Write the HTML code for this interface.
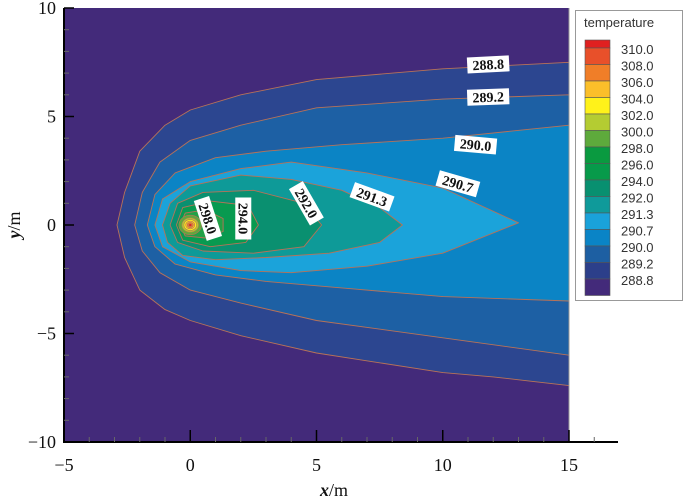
<!DOCTYPE html>
<html><head><meta charset="utf-8"><style>
body{margin:0;background:#fff;}
svg{display:block;}
.tl{font-family:"Liberation Serif",serif;font-size:18px;fill:#111;}
.cl{font-family:"Liberation Serif",serif;font-size:14px;font-weight:bold;fill:#111;}
.lg{font-family:"Liberation Sans",sans-serif;font-size:13px;fill:#333;}
</style></head><body>
<svg id="chart" width="700" height="501" viewBox="0 0 700 501">
<g id="plot"></g>
<g id="axes"></g>
<g id="labels"></g>
<g id="legend"></g>
</svg>
<script>
const xTicks=[-5,0,5,10,15];
const yTicks=[10,5,0,-5,-10];
const xTickLabels=["\u22125","0","5","10","15"];
const yTickLabels=["10","5","0","\u22125","\u221210"];
const legendLevels=["310.0","308.0","306.0","304.0","302.0","300.0","298.0","296.0","294.0","292.0","291.3","290.7","290.0","289.2","288.8"];
const legendColors=["#e8502a","#f07e28","#fbbf2a","#fff21a","#b4cc32","#5eaa3c","#0a9a40","#079a4a","#089070","#0f9a9a","#1aa2da","#0a84c6","#1d5fa2","#2c3f8a","#432a7a"];
const regionLevels=["289.2","290.0","290.7","291.3","292.0","294.0","296.0","298.0"];
const regionColors=["#2c4690","#1d60a4","#0b84c5","#1ba3da","#0e9a98","#0a9070","#089a50","#22a046"];
const regionPolys=[
[[-2.9,0],[-2.6,1.5],[-2,3.4],[-1,4.6],[0,5.3],[2,6.0],[5,6.7],[10,7.2],[15,7.5],[15,-7.4],[12,-7.0],[10,-6.8],[5,-5.9],[2,-5.1],[0,-4.4],[-1,-3.9],[-2,-3],[-2.6,-1.5]],
[[-2.2,0],[-1.9,1.5],[-1.2,2.9],[0,3.9],[2,4.6],[5,5.4],[10,5.8],[15,6.0],[15,-6.0],[10,-5.2],[5,-4.4],[2,-3.6],[0,-3.0],[-1.2,-2.2],[-1.9,-1.2]],
[[-1.7,0],[-1.4,1.4],[-0.6,2.4],[1,3.1],[3,3.4],[6,3.7],[10,4.0],[15,4.6],[15,-3.5],[10,-3.3],[6,-2.9],[3,-2.6],[1,-2.3],[-0.6,-1.8],[-1.4,-1.0]],
[[-1.4,0],[-1.1,1.2],[0,2.0],[2,2.6],[4,2.9],[7,2.4],[10,1.7],[13,0.1],[10,-1.3],[7,-1.9],[4,-2.2],[2,-2.1],[0,-1.7],[-1.1,-1.0]],
[[-1.1,0],[-0.8,1.0],[0,1.8],[2,2.3],[4,2.1],[6,1.6],[7.5,0.8],[8.4,0],[7.5,-0.8],[5.5,-1.3],[3,-1.5],[1,-1.6],[-0.3,-1.4],[-0.9,-0.8]],
[[-0.8,0],[-0.5,1.0],[0.5,1.5],[2.5,1.6],[4.5,1.0],[5.2,0],[4.5,-1.0],[2.5,-1.3],[0.5,-1.2],[-0.5,-0.8]],
[[-0.55,0],[-0.3,0.8],[0.8,1.1],[2.3,0.9],[2.7,0],[2.2,-0.8],[0.8,-1.0],[-0.3,-0.7]],
[[-0.4,0],[-0.2,0.55],[0.6,0.7],[1.3,0.3],[1.3,-0.3],[0.6,-0.6],[-0.2,-0.5]]];
const coreRadii=[0.45,0.33,0.25,0.18,0.12,0.06];
const coreColors=["#5eaa3c","#b4cc32","#fff21a","#fbbf2a","#f07e28","#e02020"];
const labelText=["288.8","289.2","290.0","290.7","291.3","292.0","294.0","298.0"];
const labelX=[11.8,11.8,11.3,10.6,7.2,4.6,2.1,0.7];
const labelY=[7.4,5.9,3.7,1.9,1.3,1.0,0.3,0.3];
const labelRot=[-3,-2,5,16,20,60,90,72];

const X0=64,X1=569,Y0=8,Y1=442;
const sx=v=>X0+(v+5)/20*(X1-X0);
const sy=v=>Y0+(10-v)/20*(Y1-Y0);
const NS="http://www.w3.org/2000/svg";
function mk(t,a,p){const e=document.createElementNS(NS,t);for(const k in a)e.setAttribute(k,a[k]);p.appendChild(e);return e;}
const plot=document.getElementById('plot'),axes=document.getElementById('axes'),labels=document.getElementById('labels'),legend=document.getElementById('legend');
let bg=mk('rect',{x:X0,y:Y0,width:X1-X0,height:Y1-Y0,fill:"#432a7a"},plot);


regionPolys.forEach((poly,i)=>{
  const p=mk('polygon',{points:poly.map(q=>sx(q[0]).toFixed(1)+','+sy(q[1]).toFixed(1)).join(' '),fill:regionColors[i],stroke:"#b87258","stroke-width":0.9,"stroke-linejoin":"round"},plot);
  
  
});
coreRadii.forEach((r,i)=>{
  const e=mk('ellipse',{cx:sx(0),cy:sy(0),rx:sx(r)-sx(0),ry:sy(0)-sy(r),fill:coreColors[i],stroke:"#b87258","stroke-width":0.6},plot);
  
  
});
mk('line',{x1:X0,y1:Y0,x2:X0,y2:Y1+1,stroke:"#000","stroke-width":2},axes);
mk('line',{x1:X0-1,y1:Y1,x2:618,y2:Y1,stroke:"#000","stroke-width":2},axes);
mk('line',{x1:X1,y1:Y0,x2:X1,y2:Y1,stroke:"#999","stroke-width":1},axes);
for(let v=-5;v<=16;v++){const big=v%5===0;mk('line',{x1:sx(v),y1:Y1,x2:sx(v),y2:Y1-(big?12:5),stroke:big?"#000":"#666","stroke-width":big?1.5:1},axes);}
for(let v=-10;v<=10;v++){const big=v%5===0;mk('line',{x1:X0,y1:sy(v),x2:X0+(big?10:5),y2:sy(v),stroke:big?"#000":"#666","stroke-width":big?1.5:1},axes);}
xTicks.forEach((v,i)=>{const t=mk('text',{x:sx(v),y:471,"text-anchor":"middle",class:"tl"},axes);t.textContent=xTickLabels[i];
});
yTicks.forEach((v,i)=>{const t=mk('text',{x:56,y:sy(v)+6,"text-anchor":"end",class:"tl"},axes);t.textContent=yTickLabels[i];
});
let xt=mk('text',{x:334,y:496,"text-anchor":"middle",class:"tl","font-size":"22"},axes);
xt.innerHTML='<tspan font-style="italic" font-weight="bold">x</tspan>/m';

let yt=mk('text',{x:0,y:0,"text-anchor":"middle",class:"tl","font-size":"22",transform:"translate(20,225) rotate(-90)"},axes);
yt.innerHTML='<tspan font-style="italic" font-weight="bold">y</tspan>/m';

labelText.forEach((s,i)=>{
  const g=mk('g',{transform:`translate(${sx(labelX[i])},${sy(labelY[i])}) rotate(${labelRot[i]})`},labels);
  
  
  mk('rect',{x:-21,y:-8,width:42,height:16,fill:"#fff"},g);
  const t=mk('text',{x:0,y:5,"text-anchor":"middle",class:"cl"},g);t.textContent=s;
});
mk('rect',{x:575.5,y:10.5,width:107,height:290,fill:"#fff",stroke:"#999"},legend);
let lt=mk('text',{x:584,y:27,class:"lg","font-size":"12"},legend);lt.textContent="temperature";

mk('rect',{x:585,y:40,width:25,height:8,fill:"#e02020",stroke:"#555","stroke-width":0.6},legend);
legendLevels.forEach((s,i)=>{
  const y=48+i*16.5;
  const g=mk('g',{},legend);
  
  
  mk('rect',{x:585,y:y,width:25,height:16.5,fill:legendColors[i],stroke:"#555","stroke-width":0.6},g);
  const t=mk('text',{x:621,y:y+6,class:"lg"},g);t.textContent=s;
});
</script>
</body></html>
